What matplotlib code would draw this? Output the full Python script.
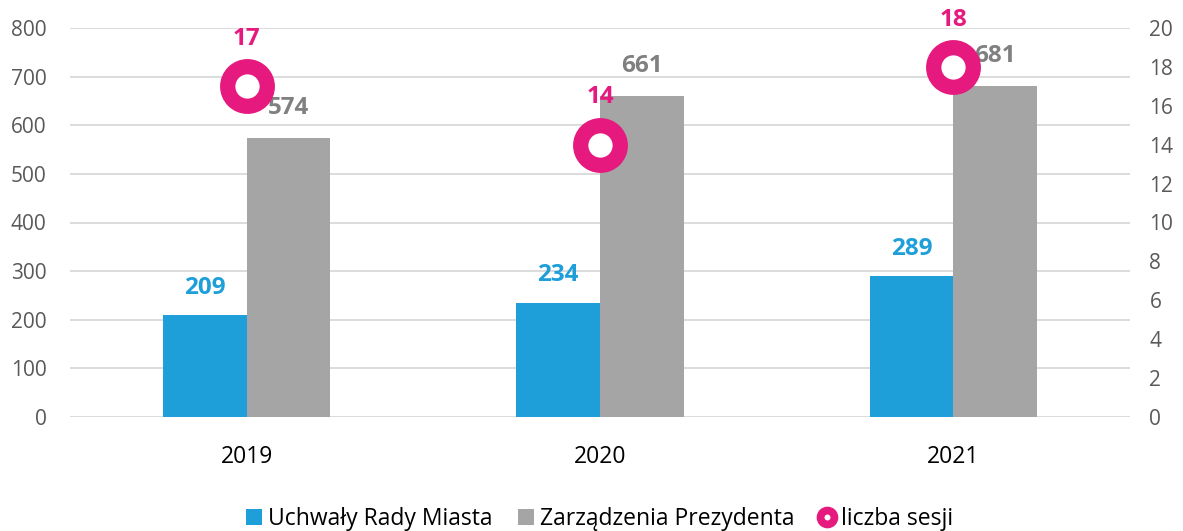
import matplotlib
matplotlib.use("Agg")
import matplotlib.pyplot as plt
from matplotlib.lines import Line2D
from matplotlib.patches import Patch
import numpy as np

plt.rcParams['font.family'] = ['Open Sans', 'DejaVu Sans']

years = ["2019", "2020", "2021"]
uchwaly = [209, 234, 289]
zarzadzenia = [574, 661, 681]
sesje = [17, 14, 18]
left_ticks = [0, 100, 200, 300, 400, 500, 600, 700, 800]
right_ticks = [0, 2, 4, 6, 8, 10, 12, 14, 16, 18, 20]

BLUE = "#1F9FDA"
GRAY = "#A5A5A5"
GRAY_LBL = "#808080"
PINK = "#E6197F"
TICK = "#595959"

fig = plt.figure(figsize=(11.83, 5.31), dpi=100)
ax = fig.add_axes([70/1183, 1-417/531, 1060/1183, 389/531])
ax2 = ax.twinx()

x = np.arange(len(years))
w = 0.237
ax.bar(x - w/2, uchwaly, width=w, color=BLUE, zorder=3)
ax.bar(x + w/2, zarzadzenia, width=w, color=GRAY, zorder=3)

ax.set_xlim(-0.5, 2.5)
ax.set_ylim(0, 800)
ax.set_yticks(left_ticks)
ax.grid(axis='y', color="#D9D9D9", linewidth=1.3, zorder=0)
ax.set_axisbelow(True)
for s in ax.spines.values():
    s.set_visible(False)
for s in ax2.spines.values():
    s.set_visible(False)
ax.tick_params(axis='y', length=0, pad=17, labelsize=15, labelcolor=TICK)
ax.tick_params(axis='x', length=0, pad=20, labelsize=16.5, labelcolor="#000000")
ax.set_xticks(x)
ax.set_xticklabels(years)

for xi, v in zip(x, uchwaly):
    ax.annotate(str(v), (xi - w/2, v), xytext=(0, 20), textcoords='offset points',
                ha='center', va='center', fontsize=17.5, fontweight='bold', color=BLUE, zorder=5)
for xi, v in zip(x, zarzadzenia):
    ax.annotate(str(v), (xi + w/2, v), xytext=(0, 21.5), textcoords='offset points',
                ha='center', va='center', fontsize=17.5, fontweight='bold', color=GRAY_LBL, zorder=5)

ax2.set_ylim(0, 20)
ax2.set_yticks(right_ticks)
ax2.tick_params(axis='y', length=0, pad=14, labelsize=15, labelcolor=TICK)
ax2.plot(x, sesje, linestyle='none', marker='o', markersize=28.5, markeredgewidth=11,
         markeredgecolor=PINK, markerfacecolor='white', zorder=6)
for xi, v in zip(x, sesje):
    ax2.annotate(str(v), (xi, v), xytext=(0, 34), textcoords='offset points',
                 ha='center', va='center', fontsize=17.5, fontweight='bold', color=PINK)

handles = [
    Patch(facecolor=BLUE, label="Uchwały Rady Miasta"),
    Patch(facecolor=GRAY, label="Zarządzenia Prezydenta"),
    Line2D([], [], linestyle='none', marker='o', markersize=10, markeredgewidth=5.6,
           markeredgecolor=PINK, markerfacecolor='white', label="liczba sesji"),
]
fig.legend(handles=handles, loc='center', bbox_to_anchor=(0.507, 1-519/531), ncol=3,
           frameon=False, fontsize=16.5, handlelength=0.7, handleheight=0.7,
           handletextpad=0.25, columnspacing=1.1, borderpad=0)

fig.savefig("out.png", dpi=100)
